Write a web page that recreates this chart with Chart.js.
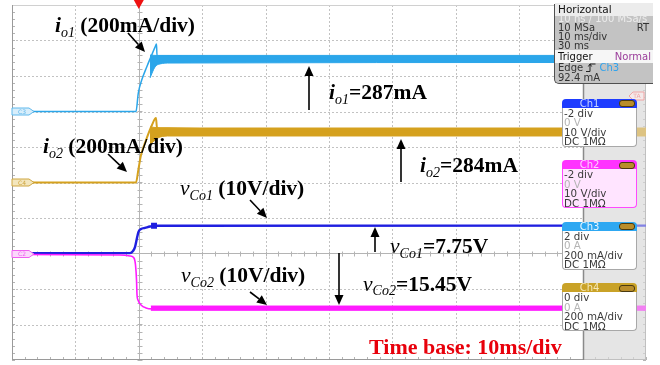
<!DOCTYPE html>
<html><head><meta charset="utf-8">
<script src="https://cdn.jsdelivr.net/npm/chart.js@4.4.1/dist/chart.umd.min.js"></script>
<style>
html,body{margin:0;padding:0;background:#fff;}
#root{position:relative;width:660px;height:365px;overflow:hidden;background:#fff;}
#c{position:absolute;left:0;top:0;}
.lbl{position:absolute;white-space:nowrap;font-family:'Liberation Serif','Times New Roman',serif;font-weight:bold;font-size:21.5px;line-height:21.5px;color:#000;}
.lbl i{font-style:italic;}
.lbl .it{font-style:italic;font-weight:normal;}
.lbl .sub{font-size:14px;font-style:italic;font-weight:normal;position:relative;top:4.5px;}
.box{position:absolute;left:562px;width:75px;height:48px;font-family:'DejaVu Sans',sans-serif;font-size:10.3px;color:#3a3a3a;}
.box .hd{position:absolute;left:0;top:0;width:75px;height:9px;border-radius:4px 4px 0 0;}
.box .hd span{position:absolute;left:0;width:55px;text-align:center;top:-1px;line-height:11px;font-size:10px;}
.box .ic{position:absolute;left:57px;top:1.5px;width:14px;height:5px;border-radius:3px;background:#b98d2a;border:1px solid #4a3a10;}
.box .bd{position:absolute;left:0;top:9px;width:73px;height:38px;border:1px solid #a8a8a8;border-top:none;border-radius:0 0 4px 4px;background:#fff;}
.box .ln{position:absolute;left:2px;line-height:10px;white-space:nowrap;}
.box .g{color:#b4b4b4;}
#hp{position:absolute;left:554px;top:4px;width:98px;height:79px;background:#c3c3c3;border-left:1.5px solid #505050;border-bottom:1.5px solid #505050;border-bottom-left-radius:5px;font-family:'DejaVu Sans',sans-serif;font-size:10px;color:#333;}
#hp .r{position:absolute;left:3px;right:2px;line-height:10px;white-space:nowrap;}
#hp .rt{position:absolute;right:2px;}
</style>
</head><body>
<div id="root">
<canvas id="c" width="660" height="365"></canvas>

<div class="lbl" style="left:55px;top:15px"><i>i</i><span class="sub">o1</span> (200mA/div)</div>
<div class="lbl" style="left:43px;top:136px"><i>i</i><span class="sub">o2</span> (200mA/div)</div>
<div class="lbl" style="left:329px;top:82px"><i>i</i><span class="sub">o1</span>=287mA</div>
<div class="lbl" style="left:420px;top:155px"><i>i</i><span class="sub">o2</span>=284mA</div>
<div class="lbl" style="left:180px;top:178px"><span class="it">v</span><span class="sub">Co1</span> (10V/div)</div>
<div class="lbl" style="left:181px;top:265px"><span class="it">v</span><span class="sub">Co2</span> (10V/div)</div>
<div class="lbl" style="left:390px;top:236px"><span class="it">v</span><span class="sub">Co1</span>=7.75V</div>
<div class="lbl" style="left:363px;top:273.5px"><span class="it">v</span><span class="sub">Co2</span>=15.45V</div>
<div class="lbl" style="left:369px;top:336px;font-size:22px;line-height:22px;color:#e8000b">Time base: 10ms/div</div>

<div id="hp">
  <div class="r" style="top:-1px;left:0;right:0;height:13px;background:#ececec;padding-left:3px;color:#111;line-height:12px;font-size:10.5px">Horizontal</div>
  <div class="r" style="top:10px;color:#ececec">10 ns / 100 MSa/s</div>
  <div class="r" style="top:19px">10 MSa<span class="rt">RT</span></div>
  <div class="r" style="top:28px">10 ms/div</div>
  <div class="r" style="top:37px">30 ms</div>
  <div class="r" style="top:46px;left:0;right:0;height:13px;background:#f6f6f6;padding-left:3px;line-height:13px;color:#111">Trigger<span class="rt" style="color:#9a3c9a">Normal</span></div>
  <div class="r" style="top:59px">Edge <svg width="10" height="9" viewBox="0 0 10 9" style="vertical-align:-1px"><path d="M0 8.5H4V1H9.5M4 1L2.3 3.5M4 1L5.7 3.5" fill="none" stroke="#222" stroke-width="1"/></svg> <span style="color:#2fa3ee">Ch3</span></div>
  <div class="r" style="top:69px">92.4 mA</div>
</div>

<div class="box" style="top:98.5px">
  <div class="hd" style="background:#1e3cff"><span style="color:#c8d4ff">Ch1</span><div class="ic"></div></div>
  <div class="bd"></div>
  <div class="ln" style="top:9px">-2 div</div>
  <div class="ln g" style="top:18.5px">0 V</div>
  <div class="ln" style="top:28px">10 V/div</div>
  <div class="ln" style="top:37.5px">DC 1MΩ</div>
</div>
<div class="box" style="top:160px">
  <div class="hd" style="background:#ff33ff"><span style="color:#ffd0ff">Ch2</span><div class="ic"></div></div>
  <div class="bd" style="background:#ffe4ff;border-color:#ff48ff"></div>
  <div class="ln" style="top:9px">-2 div</div>
  <div class="ln g" style="top:18.5px">0 V</div>
  <div class="ln" style="top:28px">10 V/div</div>
  <div class="ln" style="top:37.5px">DC 1MΩ</div>
</div>
<div class="box" style="top:221.5px">
  <div class="hd" style="background:#2ea8f2"><span style="color:#e8f6ff">Ch3</span><div class="ic"></div></div>
  <div class="bd"></div>
  <div class="ln" style="top:9px">2 div</div>
  <div class="ln g" style="top:18.5px">0 A</div>
  <div class="ln" style="top:28px">200 mA/div</div>
  <div class="ln" style="top:37.5px">DC 1MΩ</div>
</div>
<div class="box" style="top:283px">
  <div class="hd" style="background:#c9a227"><span style="color:#f6e8b8">Ch4</span><div class="ic"></div></div>
  <div class="bd"></div>
  <div class="ln" style="top:9px">0 div</div>
  <div class="ln g" style="top:18.5px">0 A</div>
  <div class="ln" style="top:28px">200 mA/div</div>
  <div class="ln" style="top:37.5px">DC 1MΩ</div>
</div>
</div>

<script>
// ---- axis setup (10 ms/div horizontally, 10 divisions vertically) ----
const timeMin = -20, timeMax = 80;       // ms
const divMin = -5, divMax = 5;           // vertical divisions
const grayStartT = 70;                   // right-hand panel column

// ---- channel settings (offset in div, scale per div) ----
const ch1 = {offset: -2, perDiv: 10};    // vCo1, V
const ch2 = {offset: -2, perDiv: 10};    // vCo2, V
const ch3 = {offset: 2, perDiv: 200};    // io1, mA
const ch4 = {offset: 0, perDiv: 200};    // io2, mA

// ---- io1 (mA) ----
const io1T    = [-20, -0.44, -0.08, 0.46, 1.25, 2.03, 2.56, 2.79, 2.87, 70];
const io1mA   = [0, 0, 104, 177, 251, 318, 363, 380, 316, 296];
const io1BandT  = [1.77, 2.56, 3.34, 4.92, 70];
const io1BandHi = [318, 316, 316, 316, 316];
const io1BandLo = [189, 251, 268, 273, 276];

// ---- io2 (mA) ----
const io2T    = [-20, -0.44, -0.08, 0.35, 1.14, 2.08, 2.71, 2.87, 80];
const io2mA   = [0, 0, 70, 155, 239, 324, 363, 307, 285];
const io2BandT  = [1.77, 2.56, 3.34, 4.92, 80];
const io2BandHi = [313, 310, 307, 307, 307];
const io2BandLo = [211, 240, 256, 262, 262];

// ---- vCo1 (V) ----
const vCo1T = [-20, -1.39, -0.91, -0.6, -0.28, -0.05, 0.35, 0.98, 1.77, 2.4, 80];
const vCo1V = [0.1, 0.1, 0.7, 1.8, 4.4, 6.1, 6.9, 7.2, 7.6, 7.8, 7.85];

// ---- vCo2 (V) ----
const vCo2T = [-20, -2.97, -1.39, -0.76, -0.52, -0.36, -0.28, -0.13, 0.35, 1.14, 2.08, 80];
const vCo2V = [-0.28, -0.42, -0.7, -1.27, -3.24, -7.46, -11.7, -13.1, -14.5, -15.35, -15.6, -15.5];
const vCo2BandT  = [1.9, 80];
const vCo2BandHi = [-14.8, -14.8];
const vCo2BandLo = [-16.0, -16.0];

// ---- colours ----
const cIo1 = '#2ba6ea', cIo2 = '#d5a11e', cV1 = '#1f1fe0', cV2 = '#ff1cff';

// ---- annotation arrows (pixel layout of the overlay) ----
const arrows = [
  [128,33,145,52],[108,154,127,172],[309,110,309,66],[401,182,401,139],
  [250,200,267,218],[250,292,267,305],[375,252,375,227],[339,253,339,305]
];

function pts(ts, vs, ch){ return ts.map((t,i)=>({x:t, y: vs[i]/ch.perDiv + ch.offset})); }

function line(data, color, width, order, extra){
  return Object.assign({type:'line', data, borderColor:color, backgroundColor:color,
    borderWidth:width, pointRadius:0, fill:false, order, tension:0}, extra||{});
}
const smooth = {cubicInterpolationMode:'monotone'};

const datasets = [
  line(pts(vCo2T, vCo2V, ch2), cV2, 1.6, 1, smooth),
  line(pts(vCo2BandT, vCo2BandHi, ch2), cV2, 1, 2, {fill:'+1'}),
  line(pts(vCo2BandT, vCo2BandLo, ch2), cV2, 1, 2),
  line(pts(vCo1T, vCo1V, ch1), cV1, 2.4, 3, Object.assign({pointRadius:(c)=>c.dataIndex===9?2.5:0, pointStyle:'rect'}, smooth)),
  line(pts(io1T, io1mA, ch3), cIo1, 1.5, 4, smooth),
  line(pts(io1BandT, io1BandHi, ch3), cIo1, 1, 5, {fill:'+1'}),
  line(pts(io1BandT, io1BandLo, ch3), cIo1, 1, 5, smooth),
  line(pts(io2T, io2mA, ch4), cIo2, 2, 6, smooth),
  line(pts(io2BandT, io2BandHi, ch4), cIo2, 1, 7, {fill:'+1'}),
  line(pts(io2BandT, io2BandLo, ch4), cIo2, 1, 7, smooth)
];

function tag(ctx, x, y, col, fill, txt, left){
  ctx.save();
  ctx.beginPath();
  if(!left){ ctx.moveTo(x,y-3.5); ctx.lineTo(x+17,y-3.5); ctx.lineTo(x+22,y); ctx.lineTo(x+17,y+3.5); ctx.lineTo(x,y+3.5); }
  else { ctx.moveTo(x,y-4); ctx.lineTo(x-11,y-4); ctx.lineTo(x-15,y); ctx.lineTo(x-11,y+4); ctx.lineTo(x,y+4); }
  ctx.closePath(); ctx.fillStyle=fill; ctx.fill(); ctx.strokeStyle=col; ctx.lineWidth=1; ctx.stroke();
  ctx.fillStyle=col; ctx.font='6px DejaVu Sans'; ctx.textBaseline='middle'; ctx.textAlign='center';
  ctx.fillText(txt, left? x-7 : x+10, y+0.5);
  ctx.restore();
}

const scope = {
  id:'scope',
  beforeDatasetsDraw(chart){
    const {ctx, chartArea:a, scales:{x,y}} = chart;
    const gx = Math.round(x.getPixelForValue(grayStartT));
    ctx.save();
    ctx.fillStyle='#e5e5e5'; ctx.fillRect(gx, a.top, a.right-gx, a.bottom-a.top);
    ctx.strokeStyle='#c2c2c2'; ctx.lineWidth=1; ctx.setLineDash([2,2]);
    for(let t=timeMin+10; t<grayStartT; t+=10){
      if(t===0) continue;
      const px=Math.round(x.getPixelForValue(t))+0.5;
      ctx.beginPath(); ctx.moveTo(px,a.top); ctx.lineTo(px,a.bottom); ctx.stroke();
    }
    for(let d=divMin+1; d<divMax; d++){
      if(d===-2) continue;
      const py=Math.round(y.getPixelForValue(d))+0.5;
      ctx.beginPath(); ctx.moveTo(a.left,py); ctx.lineTo(gx,py); ctx.stroke();
    }
    ctx.setLineDash([]);
    const x0=Math.round(x.getPixelForValue(0))+0.5, y0=Math.round(y.getPixelForValue(-2))+0.5;
    ctx.strokeStyle='#b4b4b4';
    ctx.beginPath(); ctx.moveTo(x0,a.top); ctx.lineTo(x0,a.bottom); ctx.moveTo(a.left,y0); ctx.lineTo(gx,y0); ctx.stroke();
    ctx.beginPath();
    for(let d=divMin; d<=divMax; d+=0.2){ const py=Math.round(y.getPixelForValue(d))+0.5;
      ctx.moveTo(x0-2,py); ctx.lineTo(x0+3,py); ctx.moveTo(a.left,py); ctx.lineTo(a.left+3,py); ctx.moveTo(a.right-3,py); ctx.lineTo(a.right,py); }
    for(let t=timeMin; t<=timeMax; t+=2){ const px=Math.round(x.getPixelForValue(t))+0.5;
      if(t<grayStartT){ ctx.moveTo(px,y0-2); ctx.lineTo(px,y0+3); }
      ctx.moveTo(px,a.bottom); ctx.lineTo(px,a.bottom-3); }
    ctx.stroke();
    ctx.strokeStyle='#d0d0d0'; ctx.beginPath(); ctx.moveTo(a.left,a.top+0.5); ctx.lineTo(a.right,a.top+0.5); ctx.stroke();
    ctx.strokeStyle='#9a9a9a'; ctx.beginPath();
    ctx.moveTo(a.left+0.5,a.top); ctx.lineTo(a.left+0.5,a.bottom);
    ctx.moveTo(a.left,a.bottom-0.5); ctx.lineTo(a.right,a.bottom-0.5);
    ctx.moveTo(a.right-0.5,a.top); ctx.lineTo(a.right-0.5,a.bottom); ctx.stroke();
    ctx.restore();
  },
  afterDatasetsDraw(chart){
    const {ctx, chartArea:a, scales:{x,y}} = chart;
    const gx = Math.round(x.getPixelForValue(grayStartT));
    ctx.save();
    ctx.fillStyle='rgba(229,229,229,0.5)'; ctx.fillRect(gx+1, a.top, a.right-gx-1, a.bottom-a.top);
    ctx.strokeStyle='#8a8a8a'; ctx.lineWidth=1.5;
    ctx.beginPath(); ctx.moveTo(gx+0.5,a.top); ctx.lineTo(gx+0.5,a.bottom); ctx.stroke();
    tag(ctx, a.left, y.getPixelForValue(ch3.offset), '#5fb8ec', '#d8eefb', 'C3');
    tag(ctx, a.left, y.getPixelForValue(ch4.offset), '#cfa640', '#f3e6bd', 'C4');
    tag(ctx, a.left, y.getPixelForValue(ch2.offset)+0.5, '#f060f0', '#fbd8fb', 'C2');
    tag(ctx, 644, 96, '#f0a4a4', '#f4eaea', 'TA', true);
    const tx = x.getPixelForValue(0);
    ctx.fillStyle='#ee1111'; ctx.beginPath(); ctx.moveTo(tx-5,0); ctx.lineTo(tx+5,0); ctx.lineTo(tx,9); ctx.closePath(); ctx.fill();
    ctx.strokeStyle='#000'; ctx.fillStyle='#000'; ctx.lineWidth=1.6;
    arrows.forEach(([x1,y1,x2,y2])=>{
      const ang=Math.atan2(y2-y1,x2-x1), L=10, W=4.5;
      const bx=x2-L*Math.cos(ang), by=y2-L*Math.sin(ang);
      ctx.beginPath(); ctx.moveTo(x1,y1); ctx.lineTo(bx,by); ctx.stroke();
      ctx.beginPath(); ctx.moveTo(x2,y2);
      ctx.lineTo(bx+W*Math.sin(ang), by-W*Math.cos(ang));
      ctx.lineTo(bx-W*Math.sin(ang), by+W*Math.cos(ang)); ctx.closePath(); ctx.fill();
    });
    ctx.restore();
  }
};

new Chart(document.getElementById('c'), {
  type:'line',
  data:{datasets},
  options:{
    responsive:false, animation:false, devicePixelRatio:1,
    layout:{padding:{left:12, right:14, top:5, bottom:5}},
    plugins:{legend:{display:false}, tooltip:{enabled:false}},
    scales:{
      x:{type:'linear', min:timeMin, max:timeMax, display:false},
      y:{type:'linear', min:divMin, max:divMax, display:false}
    }
  },
  plugins:[scope]
});
</script>
</body></html>
